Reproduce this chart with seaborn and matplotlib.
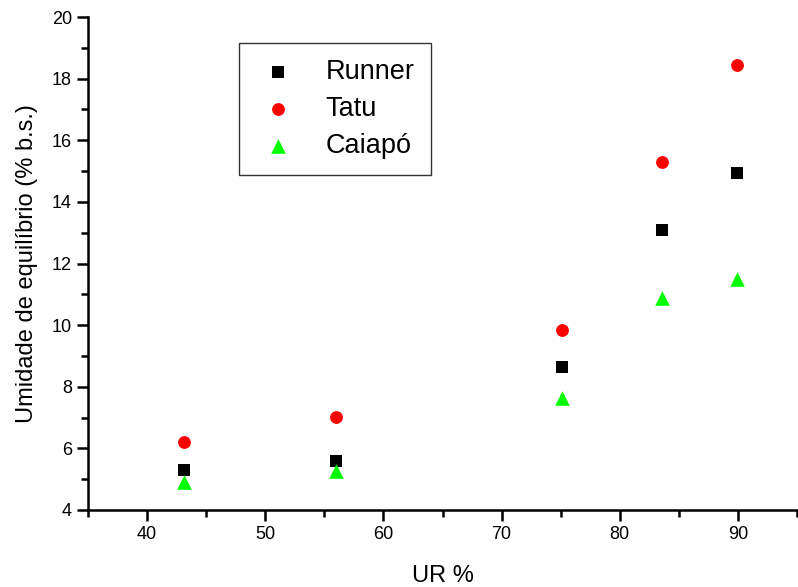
import matplotlib
matplotlib.use("Agg")
import matplotlib.pyplot as plt
import seaborn as sns
import pandas as pd
from matplotlib.ticker import MultipleLocator

ur = [43.1, 56.0, 75.1, 83.6, 89.9]
runner = [5.30, 5.58, 8.65, 13.08, 14.94]
tatu = [6.20, 7.03, 9.84, 15.28, 18.43]
caiapo = [4.90, 5.25, 7.63, 10.88, 11.50]
series_names = ["Runner", "Tatu", "Caiapó"]
colors = ["#000000", "#ff0000", "#00ff00"]
markers = ["s", "o", "^"]

rows = []
for name, vals in zip(series_names, [runner, tatu, caiapo]):
    for x, y in zip(ur, vals):
        rows.append({"UR": x, "val": y, "var": name})
df = pd.DataFrame(rows)

sns.set_theme(style="ticks")
plt.rcParams['font.family'] = ['Liberation Sans', 'DejaVu Sans']
plt.rcParams['text.color'] = 'black'
plt.rcParams['axes.labelcolor'] = 'black'
plt.rcParams['xtick.color'] = 'black'
plt.rcParams['ytick.color'] = 'black'

fig = plt.figure(figsize=(7.98, 5.87), dpi=100)
ax = fig.add_axes([88/798, 77/587, (797-88)/798, (510-17)/587])

sizes = {"Runner": 80, "Tatu": 85, "Caiapó": 110}
for name, c, m in zip(series_names, colors, markers):
    sub = df[df["var"] == name]
    sns.scatterplot(data=sub, x="UR", y="val", color=c, marker=m, s=sizes[name],
                    linewidth=0, ax=ax, label=name)

ax.set_xlim(35, 95)
ax.set_ylim(4, 20)
ax.xaxis.set_major_locator(MultipleLocator(10))
ax.xaxis.set_minor_locator(MultipleLocator(5))
ax.yaxis.set_major_locator(MultipleLocator(2))
ax.yaxis.set_minor_locator(MultipleLocator(1))
ax.set_xticks([40, 50, 60, 70, 80, 90])
ax.tick_params(which="major", direction="out", length=8, width=1.8, labelsize=13,
               colors="black", labelcolor="black")
ax.tick_params(which="minor", direction="out", length=5, width=1.8, colors="black")
for s in ["top", "right"]:
    ax.spines[s].set_visible(False)
for s in ["left", "bottom"]:
    ax.spines[s].set_linewidth(1.8)
    ax.spines[s].set_color("black")

ax.set_xlabel("UR %", fontsize=17, labelpad=16, color="black")
ax.set_ylabel("Umidade de equilíbrio (% b.s.)", fontsize=17, labelpad=10, color="black")

leg = ax.legend(loc="upper left", bbox_to_anchor=((239-88)/709, (510-43)/493),
                fontsize=19.5, frameon=True, fancybox=False, edgecolor="black",
                handletextpad=0.9, borderpad=0.6, labelspacing=0.4, handlelength=1.7,
                borderaxespad=0)
leg.get_frame().set_linewidth(1.0)
for t in leg.get_texts():
    t.set_color("black")

fig.savefig("out.png", dpi=100)
